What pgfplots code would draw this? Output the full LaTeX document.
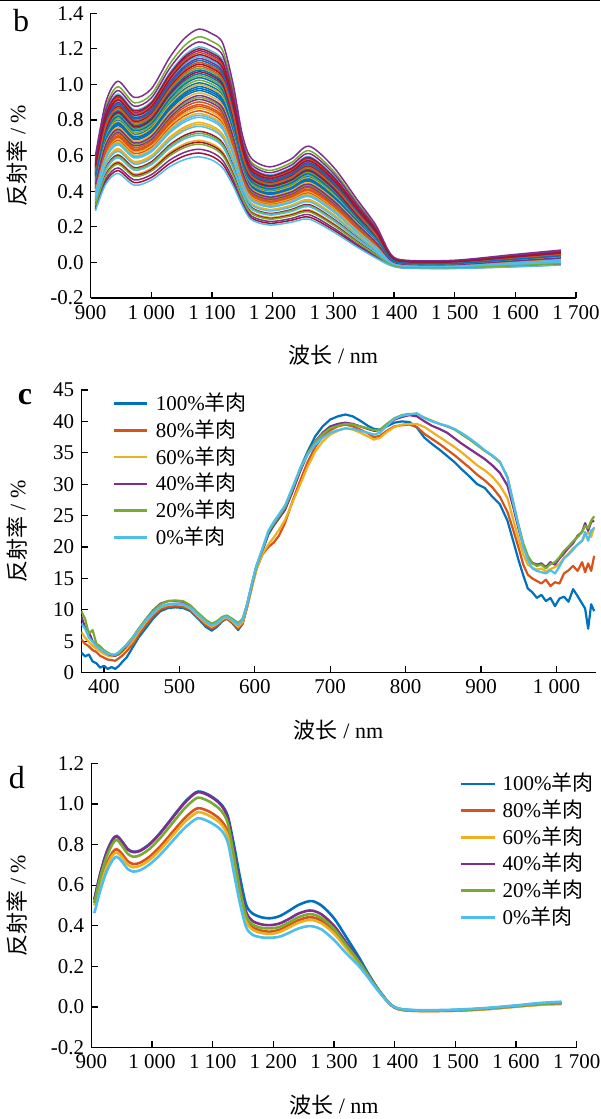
\documentclass[border=0pt]{standalone}
\usepackage{fontspec}
\setmainfont{Liberation Serif}
\newfontfamily\cjk{Noto Sans CJK SC}
\usepackage{pgfplots}
\usepackage{pgfplotstable}
\pgfplotsset{compat=1.18}
\definecolor{m1}{rgb}{0,0.447,0.741}
\definecolor{m2}{rgb}{0.850,0.325,0.098}
\definecolor{m3}{rgb}{0.929,0.694,0.125}
\definecolor{m4}{rgb}{0.494,0.184,0.556}
\definecolor{m5}{rgb}{0.466,0.674,0.188}
\definecolor{m6}{rgb}{0.301,0.745,0.933}
\definecolor{m7}{rgb}{0.635,0.078,0.184}
\pgfplotscreateplotcyclelist{matlab}{{m1},{m2},{m3},{m4},{m5},{m6},{m7}}

\pgfplotstableread{
k 908 925 945 972 1000 1030 1055 1078 1100 1118 1135 1150 1165 1195 1230 1260 1300 1340 1370 1395 1420 1500 1600 1675
c0 0.290 0.440 0.500 0.434 0.462 0.537 0.578 0.593 0.575 0.530 0.430 0.320 0.240 0.210 0.225 0.243 0.172 0.085 0.025 -0.018 -0.032 -0.034 -0.025 -0.015
c1 0.299 0.454 0.516 0.449 0.477 0.555 0.599 0.615 0.596 0.551 0.447 0.332 0.250 0.220 0.236 0.255 0.183 0.093 0.031 -0.016 -0.031 -0.033 -0.023 -0.013
c2 0.309 0.468 0.531 0.464 0.493 0.574 0.619 0.636 0.618 0.572 0.464 0.344 0.261 0.230 0.246 0.268 0.194 0.101 0.036 -0.014 -0.029 -0.031 -0.021 -0.010
c3 0.321 0.486 0.552 0.483 0.513 0.598 0.646 0.665 0.646 0.600 0.487 0.360 0.275 0.243 0.261 0.284 0.209 0.112 0.044 -0.012 -0.028 -0.029 -0.018 -0.007
m3 0.326 0.493 0.560 0.491 0.521 0.608 0.657 0.676 0.657 0.611 0.496 0.366 0.280 0.248 0.266 0.290 0.215 0.116 0.047 -0.011 -0.027 -0.029 -0.017 -0.006
c4 0.330 0.500 0.567 0.498 0.529 0.617 0.667 0.686 0.667 0.621 0.504 0.372 0.285 0.253 0.271 0.296 0.220 0.120 0.049 -0.010 -0.026 -0.028 -0.016 -0.004
c5 0.343 0.518 0.588 0.518 0.549 0.641 0.694 0.715 0.696 0.649 0.527 0.388 0.299 0.266 0.285 0.313 0.234 0.130 0.057 -0.007 -0.025 -0.026 -0.013 -0.001
m5 0.348 0.525 0.596 0.526 0.557 0.651 0.704 0.726 0.707 0.660 0.536 0.394 0.304 0.271 0.291 0.319 0.240 0.134 0.060 -0.006 -0.024 -0.026 -0.012 0.001
c6 0.352 0.532 0.604 0.533 0.565 0.660 0.714 0.737 0.717 0.670 0.544 0.400 0.309 0.275 0.296 0.325 0.245 0.138 0.062 -0.005 -0.023 -0.025 -0.011 0.002
c7 0.364 0.550 0.624 0.552 0.585 0.684 0.742 0.765 0.745 0.698 0.567 0.416 0.323 0.289 0.310 0.341 0.260 0.149 0.069 -0.003 -0.021 -0.023 -0.008 0.005
m7 0.369 0.557 0.632 0.560 0.593 0.694 0.752 0.776 0.756 0.709 0.576 0.422 0.328 0.294 0.316 0.348 0.266 0.153 0.072 -0.002 -0.021 -0.023 -0.007 0.007
c8 0.374 0.564 0.640 0.567 0.601 0.703 0.762 0.787 0.767 0.719 0.584 0.428 0.333 0.298 0.321 0.354 0.271 0.157 0.075 -0.001 -0.020 -0.022 -0.006 0.008
c9 0.386 0.583 0.661 0.587 0.621 0.727 0.789 0.816 0.795 0.747 0.607 0.444 0.347 0.311 0.335 0.370 0.285 0.167 0.082 0.002 -0.018 -0.020 -0.003 0.011
m9 0.391 0.590 0.669 0.595 0.629 0.736 0.800 0.827 0.806 0.758 0.616 0.450 0.352 0.316 0.341 0.376 0.291 0.171 0.085 0.003 -0.018 -0.019 -0.002 0.013
c10 0.395 0.596 0.676 0.602 0.636 0.745 0.810 0.837 0.816 0.768 0.624 0.456 0.357 0.321 0.346 0.382 0.296 0.175 0.088 0.003 -0.017 -0.018 -0.001 0.014
m10 0.402 0.606 0.687 0.612 0.647 0.758 0.824 0.852 0.831 0.782 0.636 0.464 0.364 0.328 0.353 0.391 0.304 0.181 0.092 0.005 -0.016 -0.018 0.001 0.016
c11 0.408 0.615 0.697 0.621 0.657 0.770 0.837 0.866 0.845 0.796 0.647 0.472 0.371 0.334 0.360 0.399 0.311 0.186 0.095 0.006 -0.015 -0.017 0.002 0.017
m11 0.413 0.622 0.705 0.629 0.665 0.779 0.848 0.877 0.856 0.807 0.656 0.478 0.377 0.339 0.366 0.405 0.317 0.190 0.098 0.007 -0.015 -0.016 0.003 0.018
c12 0.417 0.629 0.712 0.636 0.672 0.788 0.858 0.887 0.866 0.817 0.664 0.484 0.382 0.344 0.371 0.411 0.322 0.194 0.101 0.008 -0.014 -0.015 0.004 0.019
m12 0.424 0.638 0.723 0.646 0.683 0.801 0.872 0.902 0.881 0.831 0.676 0.492 0.389 0.351 0.378 0.420 0.329 0.199 0.105 0.009 -0.013 -0.014 0.006 0.021
c13 0.430 0.647 0.733 0.656 0.693 0.813 0.885 0.916 0.895 0.845 0.687 0.500 0.395 0.357 0.385 0.428 0.336 0.204 0.108 0.010 -0.012 -0.013 0.007 0.023
m13 0.435 0.654 0.741 0.664 0.701 0.822 0.895 0.927 0.906 0.856 0.696 0.506 0.401 0.362 0.390 0.434 0.342 0.208 0.111 0.011 -0.012 -0.013 0.008 0.024
c14 0.439 0.661 0.749 0.671 0.708 0.831 0.905 0.938 0.916 0.866 0.704 0.512 0.406 0.367 0.395 0.440 0.347 0.212 0.114 0.012 -0.011 -0.012 0.009 0.025
m14 0.445 0.670 0.759 0.681 0.719 0.844 0.919 0.952 0.930 0.880 0.715 0.520 0.413 0.374 0.403 0.448 0.355 0.218 0.118 0.014 -0.010 -0.011 0.010 0.027
c15 0.451 0.679 0.769 0.690 0.729 0.856 0.933 0.966 0.944 0.894 0.726 0.528 0.419 0.380 0.410 0.456 0.362 0.223 0.121 0.015 -0.009 -0.010 0.011 0.029
m15 0.456 0.686 0.777 0.698 0.737 0.865 0.943 0.977 0.955 0.905 0.735 0.534 0.425 0.385 0.415 0.463 0.368 0.227 0.124 0.016 -0.009 -0.010 0.013 0.030
c16 0.461 0.693 0.785 0.705 0.744 0.874 0.953 0.988 0.966 0.915 0.744 0.540 0.430 0.390 0.420 0.469 0.373 0.231 0.127 0.017 -0.008 -0.009 0.014 0.031
m16 0.466 0.700 0.793 0.713 0.752 0.884 0.964 0.999 0.977 0.926 0.753 0.546 0.435 0.395 0.426 0.475 0.379 0.235 0.130 0.018 -0.008 -0.008 0.015 0.033
c17 0.470 0.707 0.800 0.720 0.760 0.893 0.974 1.009 0.987 0.936 0.761 0.552 0.440 0.400 0.431 0.481 0.384 0.239 0.132 0.019 -0.007 -0.007 0.016 0.034
m17 0.476 0.716 0.811 0.730 0.770 0.905 0.988 1.024 1.001 0.950 0.772 0.560 0.447 0.407 0.438 0.489 0.391 0.244 0.136 0.020 -0.006 -0.007 0.017 0.036
c18 0.482 0.725 0.821 0.740 0.780 0.917 1.001 1.038 1.015 0.964 0.783 0.568 0.454 0.413 0.445 0.497 0.398 0.249 0.140 0.021 -0.005 -0.006 0.018 0.037
m18 0.487 0.732 0.829 0.748 0.788 0.927 1.011 1.049 1.026 0.975 0.792 0.574 0.459 0.418 0.451 0.504 0.404 0.253 0.143 0.022 -0.004 -0.005 0.020 0.039
c19 0.492 0.739 0.837 0.755 0.796 0.936 1.021 1.060 1.037 0.985 0.801 0.580 0.464 0.423 0.456 0.510 0.409 0.257 0.145 0.023 -0.003 -0.004 0.021 0.040
m19 0.497 0.746 0.845 0.762 0.804 0.945 1.032 1.071 1.048 0.996 0.810 0.586 0.470 0.428 0.461 0.516 0.415 0.261 0.148 0.024 -0.003 -0.004 0.022 0.041
c20 0.501 0.753 0.852 0.769 0.811 0.954 1.042 1.081 1.058 1.006 0.818 0.592 0.475 0.432 0.466 0.522 0.420 0.265 0.151 0.025 -0.002 -0.003 0.023 0.042
m20 0.506 0.760 0.860 0.777 0.819 0.963 1.052 1.092 1.069 1.017 0.827 0.598 0.480 0.437 0.472 0.528 0.426 0.269 0.154 0.026 -0.002 -0.002 0.024 0.044
c21 0.510 0.767 0.868 0.784 0.826 0.972 1.062 1.103 1.079 1.027 0.835 0.604 0.485 0.442 0.477 0.534 0.431 0.273 0.156 0.027 -0.001 -0.001 0.025 0.045
m21 0.515 0.774 0.876 0.792 0.834 0.982 1.073 1.114 1.090 1.038 0.844 0.610 0.490 0.447 0.483 0.540 0.437 0.277 0.159 0.028 0.000 -0.001 0.026 0.046
c22 0.519 0.780 0.883 0.799 0.842 0.991 1.083 1.124 1.100 1.048 0.852 0.616 0.495 0.452 0.488 0.546 0.442 0.281 0.162 0.029 0.001 0.000 0.027 0.047
m22 0.524 0.787 0.891 0.807 0.850 1.000 1.093 1.135 1.111 1.059 0.861 0.622 0.501 0.457 0.493 0.553 0.448 0.285 0.165 0.030 0.002 0.001 0.028 0.049
c23 0.529 0.794 0.899 0.814 0.857 1.009 1.103 1.146 1.122 1.069 0.869 0.628 0.506 0.462 0.498 0.559 0.453 0.289 0.168 0.031 0.002 0.001 0.029 0.050
m23 0.534 0.801 0.907 0.821 0.865 1.018 1.114 1.157 1.133 1.080 0.878 0.634 0.511 0.467 0.504 0.565 0.459 0.293 0.171 0.032 0.003 0.002 0.030 0.051
c24 0.538 0.808 0.914 0.828 0.872 1.027 1.124 1.167 1.143 1.090 0.886 0.640 0.516 0.472 0.509 0.571 0.464 0.297 0.173 0.032 0.003 0.003 0.031 0.052
m24 0.543 0.815 0.922 0.836 0.880 1.037 1.134 1.178 1.154 1.101 0.895 0.646 0.521 0.477 0.515 0.577 0.470 0.301 0.176 0.033 0.004 0.004 0.032 0.054
c25 0.547 0.822 0.930 0.843 0.888 1.046 1.144 1.189 1.164 1.111 0.903 0.652 0.526 0.481 0.520 0.583 0.475 0.305 0.179 0.034 0.005 0.004 0.033 0.055
m25 0.552 0.829 0.938 0.851 0.896 1.055 1.155 1.200 1.175 1.122 0.912 0.658 0.532 0.486 0.526 0.590 0.481 0.309 0.182 0.035 0.006 0.005 0.034 0.056
c26 0.557 0.836 0.946 0.858 0.903 1.064 1.165 1.211 1.186 1.132 0.920 0.664 0.537 0.491 0.531 0.596 0.486 0.313 0.184 0.036 0.006 0.006 0.035 0.057
c27 0.569 0.854 0.966 0.878 0.924 1.089 1.192 1.239 1.214 1.160 0.943 0.680 0.551 0.504 0.545 0.612 0.501 0.324 0.192 0.039 0.008 0.007 0.038 0.061
c28 0.581 0.872 0.987 0.897 0.944 1.113 1.219 1.268 1.242 1.188 0.966 0.696 0.564 0.517 0.559 0.628 0.515 0.334 0.199 0.041 0.009 0.009 0.041 0.064
c29 0.600 0.900 1.018 0.927 0.975 1.150 1.260 1.311 1.285 1.230 1.000 0.720 0.585 0.537 0.580 0.653 0.537 0.350 0.210 0.045 0.012 0.012 0.045 0.069
}\rawB
\pgfplotstabletranspose[colnames from=k,input colnames to=x]\tabB\rawB

\pgfplotstableread{
x B O Y P G C
370 3.2 5.3 6.5 9.0 9.8 7.8
375 2.6 4.6 5.6 7.2 8.6 7.0
380 2.9 4.2 4.9 6.5 6.2 5.6
385 1.8 3.6 4.3 5.0 6.8 4.9
390 1.5 3.3 3.8 4.4 4.6 4.2
395 0.8 2.7 3.4 3.8 4.2 3.8
400 1.1 2.4 3.0 3.4 3.6 3.4
405 0.6 2.1 2.7 3.0 3.2 3.0
410 0.9 2.0 2.6 2.8 2.9 2.9
415 0.6 1.9 2.7 2.7 2.8 2.9
420 1.1 2.3 2.9 3.0 3.1 3.3
425 1.8 2.8 3.4 3.6 3.8 3.9
430 2.4 3.4 4.0 4.3 4.5 4.4
438 4.0 4.5 5.0 5.5 5.6 5.5
446 5.6 6.0 6.5 6.9 7.0 6.8
455 7.0 7.5 8.0 8.4 8.4 8.2
465 8.6 9.0 9.4 9.9 9.8 9.5
475 9.8 10.1 10.4 11.0 10.9 10.5
485 10.3 10.5 10.8 11.4 11.4 10.9
495 10.4 10.6 10.9 11.4 11.5 11.0
505 10.3 10.5 10.8 11.3 11.4 10.9
515 9.8 10.0 10.2 10.6 10.7 10.3
525 8.6 8.8 9.0 9.4 9.5 9.2
535 7.3 7.6 7.9 8.3 8.4 8.1
543 6.7 7.0 7.3 7.7 7.8 7.5
550 7.3 7.5 7.8 8.1 8.2 7.9
557 8.2 8.3 8.5 8.8 8.9 8.7
563 8.6 8.6 8.8 9.0 9.1 8.9
570 7.9 8.0 8.2 8.5 8.6 8.4
578 6.8 7.0 7.3 7.7 7.9 7.6
584 7.8 7.9 8.1 8.5 8.6 8.4
590 10.6 10.5 10.6 10.9 11.0 11.0
596 13.8 13.5 13.5 14.0 14.0 14.2
602 16.8 16.4 16.3 16.9 16.8 17.0
610 19.4 18.8 18.9 19.5 19.6 19.7
618 22.0 20.0 20.4 22.2 22.4 22.6
625 23.4 20.7 21.5 23.5 23.7 24.0
632 24.6 21.8 22.7 24.6 24.9 25.2
640 26.0 23.8 24.3 25.9 26.3 26.6
650 29.0 27.3 27.1 28.8 29.2 29.5
660 32.4 30.5 29.9 32.0 32.3 32.5
670 35.2 33.5 32.8 34.8 34.9 34.7
680 37.6 35.9 35.2 36.8 36.7 36.3
690 39.2 37.6 36.8 38.2 38.0 37.4
700 40.3 38.6 37.9 39.2 38.9 38.2
710 40.8 39.2 38.5 39.6 39.3 38.6
720 41.1 39.5 38.9 39.8 39.6 38.9
730 40.8 39.2 38.7 39.6 39.5 38.8
740 40.1 38.7 38.2 39.2 39.2 38.5
750 39.3 38.1 37.6 38.8 38.9 38.2
758 38.8 37.5 37.1 38.5 38.6 37.9
766 38.7 37.7 37.4 38.6 38.7 38.2
775 39.2 38.5 38.3 39.3 39.6 39.3
785 39.8 39.2 39.1 40.3 40.5 40.4
795 40.0 39.4 39.5 40.7 41.0 40.9
805 39.9 39.5 39.6 41.0 41.2 41.1
815 39.0 39.1 39.6 40.8 41.2 41.3
825 37.4 38.0 39.1 40.0 40.6 40.5
835 36.4 37.2 38.3 39.3 40.1 40.0
845 35.5 36.4 37.5 38.8 39.6 39.6
855 34.5 35.5 36.7 38.2 39.2 39.3
865 33.5 34.6 35.9 37.3 38.7 38.8
875 32.3 33.6 35.0 36.4 37.9 38.1
885 31.2 32.6 34.0 35.6 37.1 37.3
895 30.0 31.5 33.0 34.8 36.2 36.4
905 29.4 30.6 32.2 34.0 35.3 35.4
915 28.0 29.5 31.2 33.0 34.5 34.6
925 26.8 28.0 29.8 31.8 33.5 33.6
935 24.2 25.6 27.8 29.8 31.2 31.0
943 20.8 22.6 24.2 26.2 27.0 26.8
950 17.8 19.8 21.2 22.8 23.4 23.2
956 15.5 17.2 18.8 20.2 20.6 20.0
962 13.4 15.6 17.2 18.4 18.6 18.0
968 12.8 15.0 16.7 17.5 17.4 16.6
974 11.9 14.6 16.4 17.2 17.0 16.2
980 12.4 14.2 16.6 17.4 17.2 16.0
986 11.4 14.8 16.1 16.8 16.6 15.8
992 11.9 13.8 16.5 17.6 17.3 16.3
998 10.6 14.4 16.8 17.2 17.6 15.8
1004 11.8 14.2 17.3 18.2 18.4 16.9
1010 12.1 15.8 18.3 19.0 19.4 18.2
1016 11.3 16.3 19.0 19.9 20.1 18.8
1022 13.3 17.0 19.8 20.6 20.9 19.6
1028 12.2 16.2 20.4 21.8 21.6 20.4
1034 11.0 17.6 21.0 22.4 22.4 21.0
1038 10.2 16.0 21.8 23.8 23.4 22.4
1042 7.0 17.4 22.4 22.6 23.0 21.0
1046 10.9 16.2 21.6 24.0 24.2 22.6
1050 9.8 18.6 23.2 24.2 24.9 23.0
}\tabC

\pgfplotstableread{
x B O Y P G C
905 0.530 0.515 0.500 0.528 0.512 0.462
915 0.660 0.615 0.600 0.658 0.640 0.575
925 0.760 0.703 0.688 0.758 0.737 0.665
935 0.825 0.762 0.746 0.823 0.803 0.722
942 0.842 0.777 0.761 0.840 0.823 0.740
950 0.818 0.756 0.740 0.816 0.796 0.718
960 0.778 0.718 0.702 0.776 0.755 0.680
969 0.764 0.704 0.688 0.763 0.740 0.667
980 0.770 0.710 0.695 0.768 0.747 0.673
995 0.800 0.738 0.722 0.798 0.776 0.700
1010 0.845 0.779 0.763 0.843 0.820 0.739
1025 0.900 0.830 0.813 0.898 0.873 0.787
1040 0.958 0.883 0.865 0.955 0.929 0.838
1055 1.012 0.933 0.914 1.009 0.982 0.885
1068 1.048 0.967 0.946 1.045 1.017 0.917
1076 1.061 0.979 0.960 1.058 1.031 0.930
1085 1.056 0.974 0.954 1.053 1.025 0.924
1095 1.042 0.961 0.941 1.039 1.011 0.911
1105 1.022 0.942 0.923 1.019 0.991 0.893
1115 0.995 0.915 0.897 0.990 0.963 0.868
1125 0.940 0.860 0.842 0.930 0.905 0.810
1135 0.800 0.715 0.700 0.770 0.745 0.660
1145 0.640 0.560 0.545 0.600 0.580 0.510
1155 0.505 0.436 0.424 0.470 0.452 0.395
1165 0.462 0.394 0.382 0.425 0.408 0.357
1180 0.442 0.376 0.365 0.407 0.390 0.343
1195 0.437 0.371 0.360 0.403 0.387 0.341
1210 0.447 0.380 0.369 0.411 0.394 0.346
1225 0.472 0.401 0.390 0.432 0.415 0.364
1240 0.500 0.425 0.413 0.458 0.440 0.385
1255 0.518 0.440 0.427 0.473 0.455 0.397
1265 0.521 0.441 0.428 0.474 0.456 0.397
1280 0.498 0.424 0.411 0.455 0.438 0.381
1300 0.437 0.373 0.362 0.400 0.385 0.330
1320 0.345 0.297 0.290 0.318 0.306 0.265
1340 0.250 0.222 0.218 0.235 0.228 0.205
1355 0.172 0.160 0.158 0.165 0.162 0.150
1370 0.100 0.095 0.094 0.097 0.096 0.090
1385 0.040 0.038 0.038 0.039 0.038 0.037
1395 0.008 0.007 0.007 0.008 0.008 0.008
1405 -0.008 -0.010 -0.010 -0.008 -0.008 -0.006
1420 -0.015 -0.017 -0.017 -0.015 -0.015 -0.013
1450 -0.018 -0.020 -0.020 -0.018 -0.018 -0.016
1500 -0.016 -0.018 -0.018 -0.016 -0.016 -0.013
1550 -0.008 -0.011 -0.011 -0.008 -0.008 -0.005
1600 0.005 0.002 0.002 0.005 0.005 0.008
1640 0.015 0.012 0.011 0.015 0.015 0.020
1675 0.020 0.016 0.015 0.020 0.020 0.026
}\tabD

\pgfplotsset{
  myax/.style={
    scale only axis,
    axis x line*=bottom, axis y line*=left,
    tick align=inside,
    major tick length=3.2pt,
    tick style={black, line width=0.6pt},
    axis line style={black, line width=0.6pt},
    tick label style={font=\fontsize{10.5}{12}\selectfont},
    label style={font=\fontsize{11}{13}\selectfont},
  },
  mylegend/.style={
    legend cell align=left,
    legend style={draw=none, fill=none, inner sep=0pt, outer sep=0pt,
      row sep=3.35pt, font=\fontsize{10.5}{12}\selectfont,
      nodes={inner sep=0pt, text height=8.5pt, text depth=1.5pt}},
  },
}
\begin{document}
\begin{tikzpicture}
\useasboundingbox (0,0) rectangle (300pt,559.5pt);
\draw[line width=0.6pt] (0,559.2pt) -- (300pt,559.2pt);
\node[font=\fontsize{16}{18}\selectfont] at (10.5pt,549pt) {b};
\node[font=\fontsize{16}{18}\selectfont\bfseries] at (12.5pt,361pt) {c};
\node[font=\fontsize{16}{18}\selectfont] at (8.5pt,170.5pt) {d};

% panel b
\begin{axis}[myax, at={(45.3pt,410.5pt)}, anchor=south west,
  width=242.7pt, height=142.35pt,
  xmin=900, xmax=1700, ymin=-0.2, ymax=1.4,
  xtick={900,1000,1100,1200,1300,1400,1500,1600,1700},
  xticklabels={900,1 000,1 100,1 200,1 300,1 400,1 500,1 600,1 700},
  ytick={-0.2,0,0.2,0.4,0.6,0.8,1,1.2,1.4},
  yticklabels={-0.2,0.0,0.2,0.4,0.6,0.8,1.0,1.2,1.4},
  xlabel={{\cjk 波长} / nm}, ylabel={{\cjk 反射率} / \%},
  xlabel style={at={(axis description cs:0.5,-0.2002)}, anchor=center},
  ylabel style={at={(axis description cs:-0.1516,0.5)}, anchor=center},
  cycle list name=matlab]
\pgfplotsinvokeforeach{c17,m12,c4,c25,m20,c9,c1,m15,c22,m7,c13,c28,m23,c6,c19,m10,c11,c2,m18,c26,m3,c15,m24,c8,c23,m13,c0,m21,c20,c12,m16,c27,m5,c5,m19,c16,m11,c10,c29,c3,m9,m25,m22,c21,m14,c14,m17,c7,c24,c18}{
  \addplot+[no marks, smooth, line width=0.75pt] table[x=x,y=#1]{\tabB};
}
\end{axis}

% panel c
\begin{axis}[myax, mylegend, at={(40.65pt,223.15pt)}, anchor=south west,
  width=257.2pt, height=141.35pt,
  xmin=370, xmax=1052, ymin=0, ymax=45,
  xtick={400,500,600,700,800,900,1000},
  xticklabels={400,500,600,700,800,900,1 000},
  ytick={0,5,10,15,20,25,30,35,40,45},
  yticklabels={0,5,10,15,20,25,30,35,40,45},
  xlabel={{\cjk 波长} / nm}, ylabel={{\cjk 反射率} / \%},
  xlabel style={at={(axis description cs:0.5,-0.2027)}, anchor=center},
  ylabel style={at={(axis description cs:-0.125,0.5)}, anchor=center},
  legend style={at={(0.0603,0.9866)}, anchor=north west,
    /tikz/every odd column/.style={column sep=4pt}},
  legend image code/.code={\draw[#1, line width=1.3pt] (0pt,0pt) -- (16.5pt,0pt);}]
\addplot[m1, line width=1.1pt, line join=round] table[x=x,y=B]{\tabC};
\addlegendentry{100\%{\cjk 羊肉}}
\addplot[m2, line width=1.1pt, line join=round] table[x=x,y=O]{\tabC};
\addlegendentry{80\%{\cjk 羊肉}}
\addplot[m3, line width=1.1pt, line join=round] table[x=x,y=Y]{\tabC};
\addlegendentry{60\%{\cjk 羊肉}}
\addplot[m4, line width=1.1pt, line join=round] table[x=x,y=P]{\tabC};
\addlegendentry{40\%{\cjk 羊肉}}
\addplot[m5, line width=1.1pt, line join=round] table[x=x,y=G]{\tabC};
\addlegendentry{20\%{\cjk 羊肉}}
\addplot[m6, line width=1.1pt, line join=round] table[x=x,y=C]{\tabC};
\addlegendentry{0\%{\cjk 羊肉}}
\end{axis}

% panel d
\begin{axis}[myax, mylegend, at={(45.65pt,35.7pt)}, anchor=south west,
  width=242.7pt, height=142.15pt,
  xmin=900, xmax=1700, ymin=-0.2, ymax=1.2,
  xtick={900,1000,1100,1200,1300,1400,1500,1600,1700},
  xticklabels={900,1 000,1 100,1 200,1 300,1 400,1 500,1 600,1 700},
  ytick={-0.2,0,0.2,0.4,0.6,0.8,1,1.2},
  yticklabels={-0.2,0.0,0.2,0.4,0.6,0.8,1.0,1.2},
  xlabel={{\cjk 波长} / nm}, ylabel={{\cjk 反射率} / \%},
  xlabel style={at={(axis description cs:0.5,-0.2019)}, anchor=center},
  ylabel style={at={(axis description cs:-0.153,0.5)}, anchor=center},
  legend style={at={(0.7596,0.963)}, anchor=north west,
    /tikz/every odd column/.style={column sep=3pt}},
  legend image code/.code={\draw[#1, line width=1.3pt] (0pt,0pt) -- (17pt,0pt);}]
\addplot[m1, line width=1.3pt, smooth] table[x=x,y=B]{\tabD};
\addlegendentry{100\%{\cjk 羊肉}}
\addplot[m2, line width=1.3pt, smooth] table[x=x,y=O]{\tabD};
\addlegendentry{80\%{\cjk 羊肉}}
\addplot[m3, line width=1.3pt, smooth] table[x=x,y=Y]{\tabD};
\addlegendentry{60\%{\cjk 羊肉}}
\addplot[m4, line width=1.3pt, smooth] table[x=x,y=P]{\tabD};
\addlegendentry{40\%{\cjk 羊肉}}
\addplot[m5, line width=1.3pt, smooth] table[x=x,y=G]{\tabD};
\addlegendentry{20\%{\cjk 羊肉}}
\addplot[m6, line width=1.3pt, smooth] table[x=x,y=C]{\tabD};
\addlegendentry{0\%{\cjk 羊肉}}
\end{axis}
\end{tikzpicture}
\end{document}
